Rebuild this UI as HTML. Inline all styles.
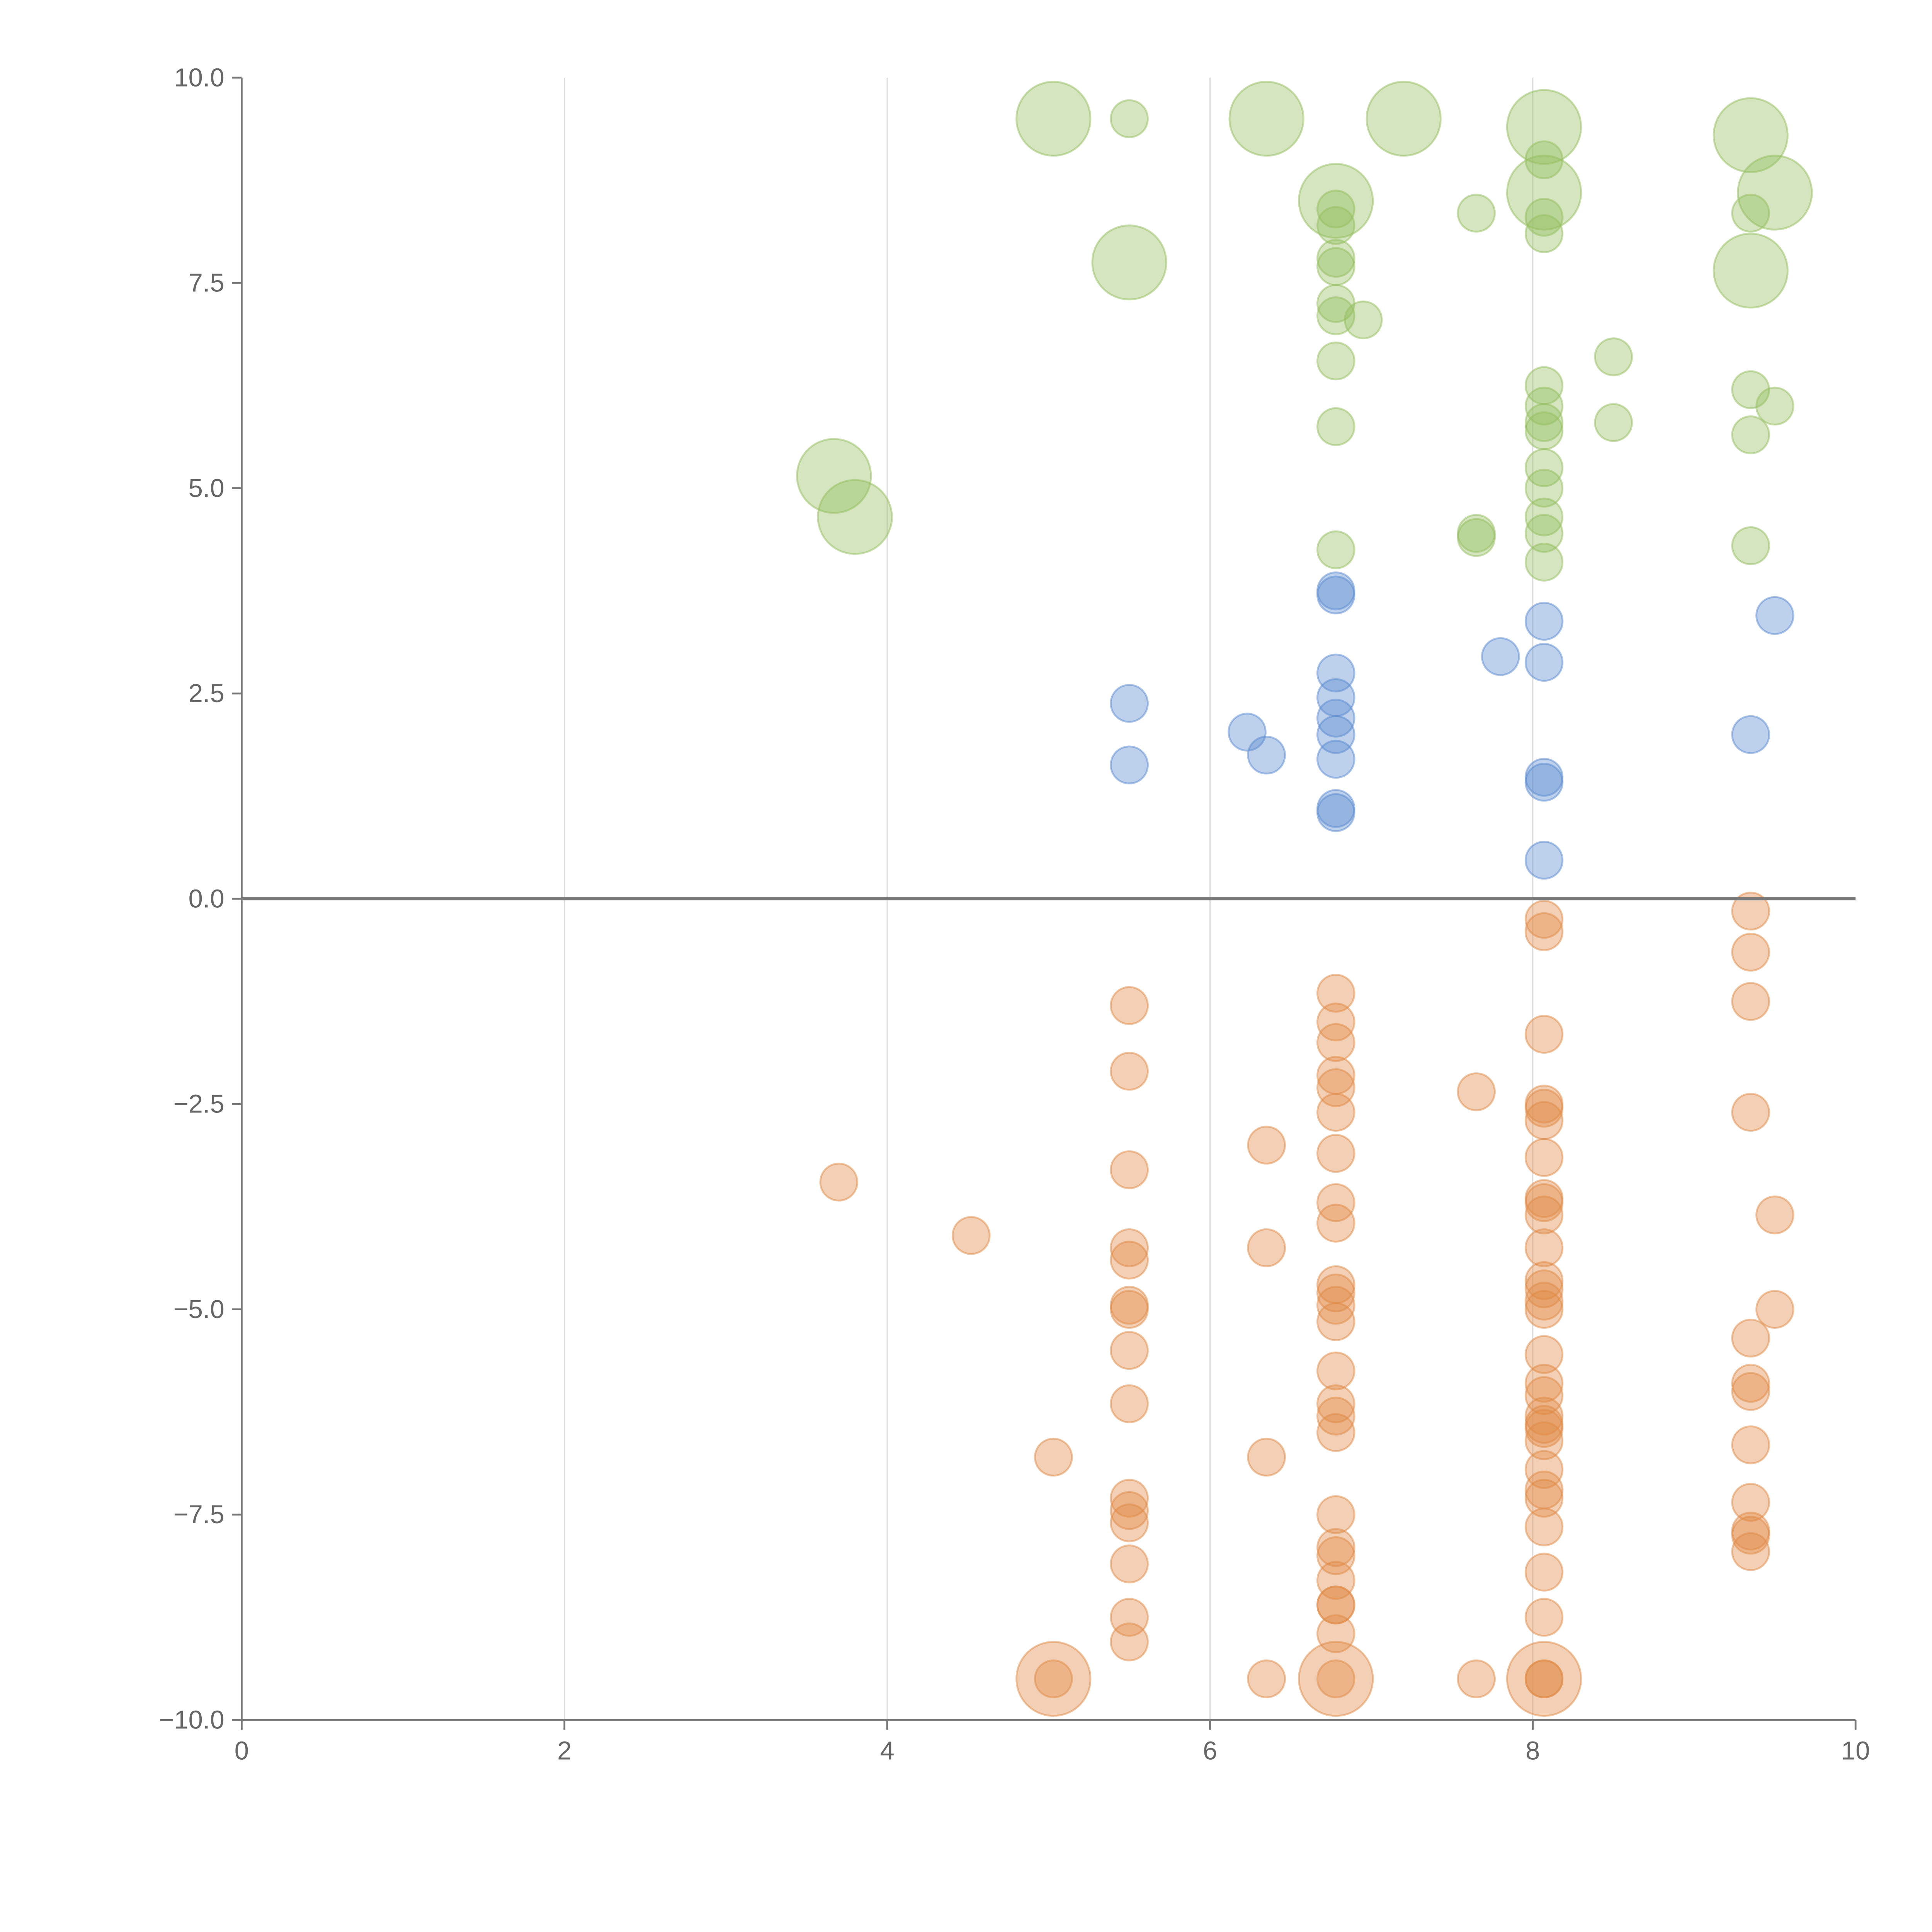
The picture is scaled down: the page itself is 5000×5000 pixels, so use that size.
<!DOCTYPE html>
<html><head><meta charset="utf-8"><style>html,body{margin:0;padding:0;background:#fff}svg{display:block}</style></head>
<body>
<svg id="chart" width="5000" height="5000" viewBox="0 0 1567 1567" xmlns="http://www.w3.org/2000/svg" font-family="Liberation Sans, sans-serif">
<g id="grid"></g>
<g id="marks"></g>
<g id="axes"></g>
</svg>
<script>
const xTicks = [0,2,4,6,8,10];
const yTicks = [-10,-7.5,-5,-2.5,0,2.5,5,7.5,10];
const yTickLabels = ["\u221210.0","\u22127.5","\u22125.0","\u22122.5","0.0","2.5","5.0","7.5","10.0"];
const greenX = [5.03,6.35,7.2,8.07,9.35,6.78,8.07,9.5,5.5,9.35,3.67,3.8,5.5,8.07,6.78,6.78,6.78,6.78,6.78,6.78,6.95,6.78,6.78,6.78,7.65,8.07,8.07,8.5,8.07,8.07,8.07,8.07,8.5,8.07,8.07,8.07,8.07,8.07,7.65,7.65,9.35,9.35,9.5,9.35,9.35];
const greenY = [9.5,9.5,9.5,9.4,9.3,8.5,8.6,8.6,7.75,7.65,5.15,4.65,9.5,9.0,8.4,8.2,7.8,7.7,7.25,7.1,7.05,6.55,5.75,4.25,8.35,8.3,8.1,6.6,6.25,6.0,5.8,5.7,5.8,5.25,5.0,4.65,4.45,4.1,4.45,4.4,8.35,6.2,6.0,5.65,4.3];
const greenSize = [2,2,2,2,2,2,2,2,2,2,2,2,1,1,1,1,1,1,1,1,1,1,1,1,1,1,1,1,1,1,1,1,1,1,1,1,1,1,1,1,1,1,1,1,1];
const blueX = [6.78,6.78,6.78,6.78,6.78,6.78,6.78,6.78,6.78,5.5,5.5,6.23,6.35,7.8,8.07,8.07,8.07,8.07,8.07,9.35,9.5];
const blueY = [3.75,3.7,2.75,2.45,2.2,2.0,1.7,1.1,1.05,2.38,1.63,2.03,1.75,2.95,3.38,2.88,1.48,1.42,0.47,2.0,3.45];
const orangeX = [3.7,4.52,5.03,5.03,5.03,
5.5,5.5,5.5,5.5,5.5,5.5,5.5,5.5,5.5,5.5,5.5,5.5,5.5,5.5,5.5,
6.35,6.35,6.35,6.35,
6.78,6.78,6.78,6.78,6.78,6.78,6.78,6.78,6.78,6.78,6.78,6.78,6.78,6.78,6.78,6.78,6.78,6.78,6.78,6.78,6.78,6.78,6.78,6.78,6.78,6.78,
7.65,7.65,
8.07,8.07,8.07,8.07,8.07,8.07,8.07,8.07,8.07,8.07,8.07,8.07,8.07,8.07,8.07,8.07,8.07,8.07,8.07,8.07,8.07,8.07,8.07,8.07,8.07,8.07,8.07,8.07,8.07,8.07,8.07,
9.35,9.35,9.35,9.35,9.35,9.35,9.35,9.35,9.35,9.35,9.35,9.35,
9.5,9.5];
const orangeY = [-3.45,-4.1,-6.8,-9.5,-9.5,
-1.3,-2.1,-3.3,-4.25,-4.4,-4.95,-5.0,-5.5,-6.15,-7.3,-7.45,-7.6,-8.1,-8.75,-9.05,
-3.0,-4.25,-6.8,-9.5,
-1.15,-1.5,-1.75,-2.15,-2.3,-2.6,-3.1,-3.7,-3.95,-4.7,-4.8,-4.95,-5.15,-5.75,-6.15,-6.3,-6.5,-7.5,-7.9,-8.0,-8.3,-8.6,-8.6,-8.95,-9.5,-9.5,
-2.35,-9.5,
-0.25,-0.4,-1.65,-2.5,-2.55,-2.7,-3.15,-3.65,-3.7,-3.85,-4.25,-4.65,-4.75,-4.9,-5.0,-5.55,-5.9,-6.05,-6.3,-6.4,-6.45,-6.6,-6.95,-7.2,-7.3,-7.65,-8.2,-8.75,-9.5,-9.5,-9.5,
-0.15,-0.65,-1.25,-2.6,-5.35,-5.9,-6.0,-6.65,-7.35,-7.7,-7.75,-7.95,
-3.85,-5.0];
const orangeBig = [3,48,80];

const NS="http://www.w3.org/2000/svg";
const X0=196,X1=1505,Y0=1395,Y1=63;
function sx(v){return X0+(v-0)/(10-0)*(X1-X0);}
function sy(v){return Y0-(v+10)/20*(Y0-Y1);}
function el(t,a,p){const e=document.createElementNS(NS,t);for(const k in a)e.setAttribute(k,a[k]);p.appendChild(e);return e;}
const grid=document.getElementById('grid'),marks=document.getElementById('marks'),axes=document.getElementById('axes');
xTicks.forEach(t=>{if(t===0||t===10)return;const l=el('line',{x1:sx(t),x2:sx(t),y1:Y1,y2:Y0,stroke:'#ddd','stroke-width':1},grid);

});
function dot(x,y,r,c,name){const c1=el('circle',{cx:sx(x),cy:sy(y),r:r,fill:c,'fill-opacity':0.4,stroke:c,'stroke-opacity':0.5,'stroke-width':1.5},marks);

}
greenX.forEach((x,i)=>dot(x,greenY[i],greenSize[i]===2?30:15,'#93bd5e','green-bubble'));
blueX.forEach((x,i)=>dot(x,blueY[i],15,'#5a89cf','blue-bubble'));
orangeX.forEach((x,i)=>dot(x,orangeY[i],orangeBig.includes(i)?30:15,'#e08a45','orange-bubble'));
const z=el('line',{x1:X0,x2:X1,y1:sy(0),y2:sy(0),stroke:'#777','stroke-width':2.5},axes);


const ya=el('line',{x1:X0,x2:X0,y1:Y1,y2:Y0,stroke:'#777','stroke-width':1.5},axes);


const xa=el('line',{x1:X0,x2:X1,y1:Y0,y2:Y0,stroke:'#777','stroke-width':1.5},axes);


xTicks.forEach(t=>{el('line',{x1:sx(t),x2:sx(t),y1:Y0,y2:Y0+8,stroke:'#777','stroke-width':1.5},axes);
const tx=el('text',{x:sx(t),y:Y0+32,'text-anchor':'middle','font-size':21,fill:'#666'},axes);tx.textContent=t;

});
yTicks.forEach((t,i)=>{el('line',{x1:X0-8,x2:X0,y1:sy(t),y2:sy(t),stroke:'#777','stroke-width':1.5},axes);
const tx=el('text',{x:X0-14,y:sy(t)+7,'text-anchor':'end','font-size':21,fill:'#666'},axes);tx.textContent=yTickLabels[i];

});
</script>
</body></html>
